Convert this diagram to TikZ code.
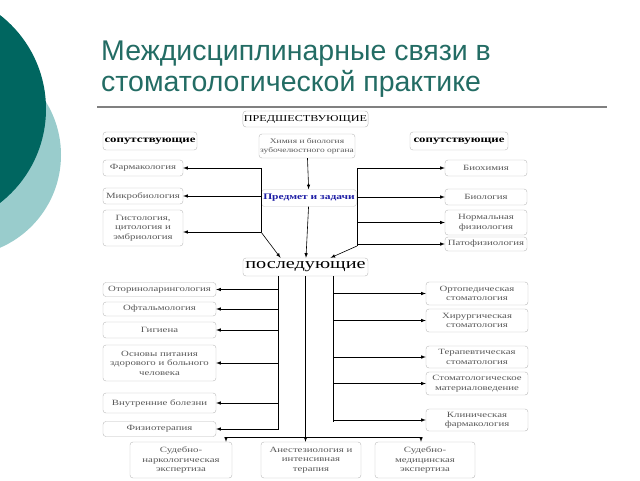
\documentclass[tikz,border=0pt]{standalone}
\usepackage{fontspec}
\setmainfont{Liberation Serif}
\newfontfamily\boxfont[FakeStretch=1.35]{Liberation Serif}
\newfontfamily\titlefont{Liberation Sans}
\usetikzlibrary{arrows}
\tikzset{>=latex}
\definecolor{tealdark}{RGB}{0,102,96}
\definecolor{teallight}{RGB}{153,204,204}
\definecolor{titleteal}{RGB}{35,108,100}
\definecolor{mainblue}{RGB}{30,30,165}

\begin{document}
\begin{tikzpicture}[x=1pt,y=-1pt,
  box/.style={draw=gray!55, rounded corners=3pt, inner sep=1pt, align=center, text=black!65, font=\boxfont\fontsize{8}{9.5}\selectfont},
  head/.style={box, text=black, font=\boxfont\fontsize{9.5}{10}\selectfont\bfseries},
  link/.style={->, line width=0.6pt}]
  \useasboundingbox (0,0) rectangle (640,480);
  % decoration at the left edge
  \fill[teallight] (-40,155) circle (101);
  \fill[tealdark] (-73,109) circle (119);
  % title
  \node[anchor=base west, inner sep=0, text=titleteal, font=\titlefont\fontsize{28.5}{32}\selectfont] (title1) at (101,60) {Междисциплинарные связи в};
  \node[anchor=base west, inner sep=0, text=titleteal, font=\titlefont\fontsize{28.5}{32}\selectfont] (title2) at (101,91) {стоматологической практике};
  \draw[gray, line width=1.5pt] (97,107) -- (607,107);

  % upper part
  \node[box, text=black, font=\boxfont\fontsize{9}{10}\selectfont, minimum width=125, minimum height=16] (pred) at (305.5,119) {ПРЕДШЕСТВУЮЩИЕ};
  \node[head, minimum width=94, minimum height=18] (sopL) at (150,141) {сопутствующие};
  \node[head, minimum width=98, minimum height=18] (sopR) at (459,141) {сопутствующие};
  \node[box, font=\boxfont\fontsize{7}{9}\selectfont, minimum width=96, minimum height=24] (znan) at (307,146) {Химия и биология\\зубочелюстного органа};
  \node[box, draw=gray!40, text=mainblue, font=\boxfont\fontsize{8.5}{9}\selectfont\bfseries, minimum width=95, minimum height=17] (main) at (309,198) {Предмет и задачи};
  \node[box, minimum width=80, minimum height=16] (farm) at (143,168) {Фармакология};
  \node[box, minimum width=80, minimum height=16] (mikro) at (143,196) {Микробиология};
  \node[box, minimum width=80, minimum height=36] (gist) at (143,228) {Гистология,\\цитология и\\эмбриология};
  \node[box, minimum width=82, minimum height=16] (bioh) at (486,168) {Биохимия};
  \node[box, minimum width=82, minimum height=16] (biol) at (486,197) {Биология};
  \node[box, minimum width=82, minimum height=25] (norm) at (486,222.5) {Нормальная\\физиология};
  \node[box, minimum width=82, minimum height=14] (pato) at (486,244) {Патофизиология};
  \node[box, text=black, font=\boxfont\fontsize{15}{16}\selectfont, minimum width=125, minimum height=18] (posl) at (305.5,267) {последующие};

  % lower part, left
  \node[box, minimum width=113, minimum height=14] (otor) at (159.5,289.5) {Оториноларингология};
  \node[box, minimum width=113, minimum height=14] (oft) at (159.5,309) {Офтальмология};
  \node[box, minimum width=113, minimum height=16] (gig) at (159.5,330) {Гигиена};
  \node[box, minimum width=113, minimum height=36] (osn) at (159.5,363) {Основы питания\\здорового и больного\\человека};
  \node[box, minimum width=113, minimum height=20] (vnutr) at (159.5,403) {Внутренние болезни};
  \node[box, minimum width=113, minimum height=15] (fizio) at (159.5,429) {Физиотерапия};
  % lower part, right
  \node[box, minimum width=102, minimum height=23] (orto) at (477,293.5) {Ортопедическая\\стоматология};
  \node[box, minimum width=102, minimum height=23] (hir) at (477,320.5) {Хирургическая\\стоматология};
  \node[box, minimum width=102, minimum height=22] (ter) at (477,357) {Терапевтическая\\стоматология};
  \node[box, minimum width=102, minimum height=23] (mat) at (477,383.5) {Стоматологическое\\материаловедение};
  \node[box, minimum width=102, minimum height=22] (klin) at (477,420) {Клиническая\\фармакология};
  % lower part, bottom
  \node[box, minimum width=102, minimum height=36] (sud1) at (181,460) {Судебно-\\наркологическая\\экспертиза};
  \node[box, minimum width=100, minimum height=36] (anest) at (311,460) {Анестезиология и\\интенсивная\\терапия};
  \node[box, minimum width=100, minimum height=36] (sud2) at (425,460) {Судебно-\\медицинская\\экспертиза};

  \coordinate (lt) at (261,168);
  \coordinate (lb) at (261,232);
  \coordinate (rt) at (357,168);
  \coordinate (rb) at (357,246);
  \coordinate (pl) at (278,430);
  \coordinate (pr) at (333,422);
  \coordinate (bl) at (226,437);
  \coordinate (br) at (421,437);

  \draw[link] (znan) -- (main);
  \draw[link] (main) -- (posl);
  \draw[line width=0.6pt] (lt) -- (lb);
  \draw[link] (lt) -- (farm.east);
  \draw[link] (lt |- mikro.east) -- (mikro.east);
  \draw[link] (lb) -- (lb -| gist.east);
  \draw[link] (lb) -- ([xshift=-25pt]posl.north);
  \draw[line width=0.6pt] (rt) -- (rb);
  \draw[link] (rt) -- (rt -| bioh.west);
  \draw[link] (rt |- biol.west) -- (biol.west);
  \draw[link] (rt |- norm.west) -- (norm.west);
  \draw[link] (rt |- pato.west) -- (pato.west);
  \draw[link] (rb) -- ([xshift=25pt]posl.north);

  \draw[line width=0.6pt] (pl |- posl.south) -- (pl);
  \foreach \b in {otor,oft,gig,osn,vnutr,fizio}
    \draw[link] (pl |- \b.east) -- (\b.east);
  \draw[line width=0.6pt] (pr |- posl.south) -- (pr);
  \foreach \b in {orto,hir,ter,mat,klin}
    \draw[link] (pr |- \b.west) -- (\b.west);
  \draw[line width=0.6pt] (posl.south) -- (posl.south |- bl);
  \draw[line width=0.6pt] (bl) -- (br);
  \draw[link] (bl) -- (bl |- sud1.north);
  \draw[link] (posl.south |- bl) -- (posl.south |- anest.north);
  \draw[link] (br) -- (br |- sud2.north);
\end{tikzpicture}
\end{document}
